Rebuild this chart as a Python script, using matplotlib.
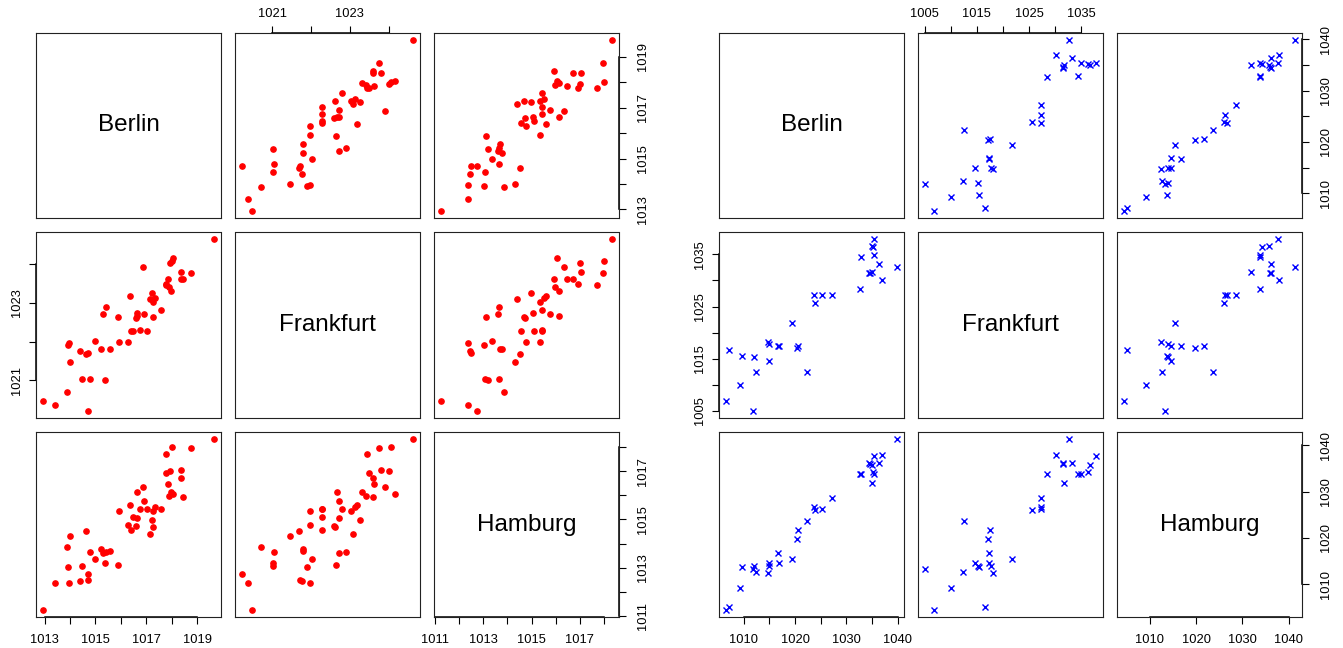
import matplotlib
matplotlib.use('Agg')
import matplotlib.pyplot as plt

plt.rcParams['font.family'] = ['Liberation Sans', 'DejaVu Sans']

names = ['Berlin', 'Frankfurt', 'Hamburg']

# left set (red dots)
berlin_1 = [1012.93, 1013.42, 1013.97, 1014.38, 1014.72, 1014.72, 1014.47, 1013.93, 1013.89, 1013.98,
            1014.64, 1014.78, 1014.99, 1015.20, 1015.29, 1015.40, 1015.57, 1015.37, 1015.90, 1015.93,
            1016.28, 1016.38, 1016.35, 1016.49, 1016.63, 1016.58, 1016.63, 1016.77, 1016.86, 1016.92,
            1017.04, 1017.14, 1017.21, 1017.25, 1017.28, 1017.35, 1017.59, 1017.77, 1017.77, 1017.85,
            1017.95, 1018.02, 1017.91, 1017.99, 1018.07, 1018.38, 1018.38, 1018.45, 1018.76, 1019.67]
frankfurt_1 = [1020.47, 1020.37, 1021.97, 1021.76, 1021.71, 1020.22, 1021.03, 1021.91, 1020.71, 1021.47,
               1021.68, 1021.04, 1022.02, 1021.80, 1022.71, 1022.89, 1021.80, 1021.02, 1022.64, 1021.98,
               1021.98, 1022.28, 1023.18, 1022.28, 1022.73, 1022.60, 1022.66, 1022.29, 1023.91, 1022.72,
               1022.28, 1023.09, 1023.26, 1022.63, 1023.03, 1023.13, 1022.81, 1023.45, 1023.49, 1023.62,
               1024.01, 1024.06, 1023.41, 1023.31, 1024.15, 1023.80, 1023.60, 1023.60, 1023.76, 1024.63]
hamburg_1 = [1011.24, 1012.36, 1012.36, 1012.43, 1012.51, 1012.72, 1013.07, 1013.01, 1013.84, 1014.30,
             1014.50, 1013.66, 1013.34, 1013.76, 1013.61, 1013.64, 1013.68, 1013.21, 1013.11, 1015.37,
             1014.77, 1014.58, 1015.58, 1015.09, 1015.04, 1014.72, 1016.13, 1015.45, 1016.34, 1015.76,
             1015.45, 1014.40, 1014.99, 1014.69, 1015.37, 1015.51, 1015.42, 1017.70, 1016.94, 1016.46,
             1016.99, 1017.99, 1015.98, 1016.13, 1016.05, 1017.05, 1016.73, 1015.95, 1017.98, 1018.34]

# right set (blue crosses)
berlin_2 = [1006.5, 1007.1, 1009.2, 1009.7, 1011.8, 1011.9, 1012.3, 1014.7, 1015.0, 1015.0,
            1016.8, 1016.6, 1019.4, 1020.3, 1020.6, 1022.4, 1023.6, 1023.9, 1025.3, 1027.2,
            1032.6, 1032.8, 1034.4, 1035.0, 1035.1, 1035.3, 1035.0, 1035.4, 1036.3, 1036.9,
            1039.9, 1034.6]
frankfurt_2 = [1006.8, 1016.6, 1010.0, 1015.4, 1005.0, 1015.3, 1012.4, 1018.1, 1014.6, 1017.8,
               1017.4, 1017.4, 1021.8, 1017.1, 1017.5, 1012.5, 1027.3, 1025.6, 1027.3, 1027.3,
               1028.4, 1034.5, 1031.5, 1036.7, 1036.4, 1034.9, 1031.7, 1037.9, 1033.2, 1030.1,
               1032.6, 1031.5]
hamburg_2 = [1004.35, 1005.0, 1009.1, 1013.6, 1013.2, 1013.8, 1012.6, 1012.3, 1014.6, 1013.8,
             1014.6, 1016.8, 1015.4, 1019.7, 1021.7, 1023.6, 1026.7, 1026.1, 1026.2, 1028.5,
             1033.7, 1033.8, 1036.2, 1035.8, 1034.3, 1033.9, 1031.9, 1037.7, 1036.2, 1038.0,
             1041.4, 1036.0]

# axis ticks and the labels that are printed
ticks_1 = [list(range(1013, 1020)), list(range(1021, 1025)), list(range(1011, 1019))]
shown_1 = [[1013, 1015, 1017, 1019], [1021, 1023], [1011, 1013, 1015, 1017]]
ticks_2 = [list(range(1010, 1041, 5)), list(range(1005, 1036, 5)), list(range(1010, 1041, 10))]
shown_2 = [[1010, 1020, 1030, 1040], [1005, 1015, 1025, 1035], [1010, 1020, 1030, 1040]]

W, H = 1343, 648
SIZE = 185
rows_px = [33, 232.5, 432]
cols_1 = [36, 235, 434]
cols_2 = [719, 918, 1117]


def limits(v):
    lo, hi = min(v), max(v)
    r = hi - lo
    return lo - 0.04 * r, hi + 0.04 * r


def add_axis(ax, side, tv, shown):
    labs = [str(t) if t in shown else '' for t in tv]
    if side in ('top', 'bottom'):
        ax.set_xticks(tv)
        ax.tick_params(axis='x', bottom=(side == 'bottom'), labelbottom=(side == 'bottom'),
                       top=(side == 'top'), labeltop=(side == 'top'),
                       length=5, width=0.8, labelsize=9.3, pad=(7.5 if side == 'bottom' else 4.5))
        ax.set_xticklabels(labs)
        yy = 0 if side == 'bottom' else 1
        ax.plot([tv[0], tv[-1]], [yy, yy], color='black', lw=1.1,
                transform=ax.get_xaxis_transform(), clip_on=False)
    else:
        ax.set_yticks(tv)
        ax.tick_params(axis='y', left=(side == 'left'), labelleft=(side == 'left'),
                       right=(side == 'right'), labelright=(side == 'right'),
                       length=5, width=0.8, labelsize=9.3, pad=(8 if side == 'right' else 4.5))
        ax.set_yticklabels(labs, rotation=90, va='center')
        xx = 0 if side == 'left' else 1
        ax.plot([xx, xx], [tv[0], tv[-1]], color='black', lw=1.1,
                transform=ax.get_yaxis_transform(), clip_on=False)


def pairs(fig, cols_px, series, ticks, shown, style):
    n = len(series)
    lims = [limits(s) for s in series]
    for i in range(n):
        for j in range(n):
            ax = fig.add_axes([cols_px[j] / W, 1 - (rows_px[i] + SIZE) / H, SIZE / W, SIZE / H])
            ax.set_xlim(lims[j])
            ax.set_ylim(lims[i])
            for s in ax.spines.values():
                s.set_color('#222222')
                s.set_linewidth(0.8)
            ax.set_xticks([])
            ax.set_yticks([])
            if i == j:
                ax.text(0.5, 0.5, names[i], ha='center', va='center', fontsize=17.5,
                        transform=ax.transAxes)
            else:
                ax.plot(series[j], series[i], linestyle='none', **style)
            if i == 0 and j % 2 == 1:
                add_axis(ax, 'top', ticks[j], shown[j])
            if i == n - 1 and j % 2 == 0:
                add_axis(ax, 'bottom', ticks[j], shown[j])
            if j == 0 and i % 2 == 1:
                add_axis(ax, 'left', ticks[i], shown[i])
            if j == n - 1 and i % 2 == 0:
                add_axis(ax, 'right', ticks[i], shown[i])


fig = plt.figure(figsize=(W / 100, H / 100), dpi=100)
pairs(fig, cols_1, [berlin_1, frankfurt_1, hamburg_1], ticks_1, shown_1,
      dict(marker='o', color='red', ms=3.8, mec='red'))
pairs(fig, cols_2, [berlin_2, frankfurt_2, hamburg_2], ticks_2, shown_2,
      dict(marker='x', color='blue', ms=4.5, mew=1.0))

plt.savefig('out.png', dpi=100, facecolor='white')
